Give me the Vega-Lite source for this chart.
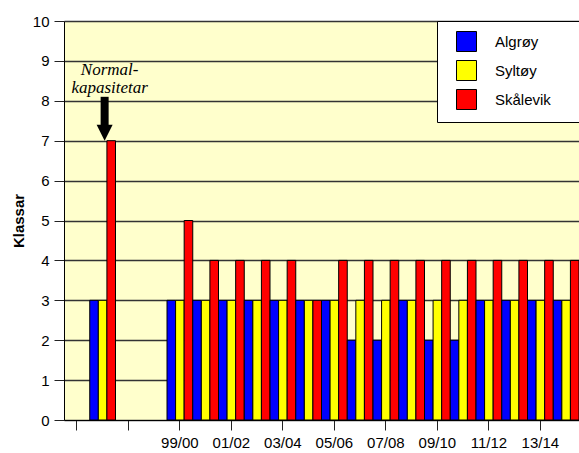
{
  "$schema": "https://vega.github.io/schema/vega-lite/v6.json",
  "width": 515,
  "height": 399,
  "autosize": {"type": "none"},
  "padding": {"left": 64, "top": 21, "right": 0, "bottom": 33},
  "background": "white",
  "config": {
    "view": {"fill": "#FFFFCC", "stroke": null},
    "font": "Liberation Sans",
    "axis": {"labelColor": "#000", "titleColor": "#000", "domainColor": "#000", "tickColor": "#222", "labelFont": "Liberation Sans", "titleFont": "Liberation Sans"},
    "axisY": {
      "tickCount": 10, "labelOverlap": false, "labelFlush": false,
      "grid": true, "gridColor": "#333", "gridOpacity": 1, "gridWidth": 1.5,
      "tickSize": 10, "labelFontSize": 15, "labelPadding": 5,
      "titleFontSize": 15, "titleFontWeight": "bold", "titlePadding": 6
    }
  },
  "layer": [
    {
      "data": {"values": [
        {"period": "Normal", "site": "Algrøy", "value": 3}, {"period": "Normal", "site": "Syltøy", "value": 3}, {"period": "Normal", "site": "Skålevik", "value": 7},
        {"period": "99/00", "site": "Algrøy", "value": 3}, {"period": "99/00", "site": "Syltøy", "value": 3}, {"period": "99/00", "site": "Skålevik", "value": 5},
        {"period": "00/01", "site": "Algrøy", "value": 3}, {"period": "00/01", "site": "Syltøy", "value": 3}, {"period": "00/01", "site": "Skålevik", "value": 4},
        {"period": "01/02", "site": "Algrøy", "value": 3}, {"period": "01/02", "site": "Syltøy", "value": 3}, {"period": "01/02", "site": "Skålevik", "value": 4},
        {"period": "02/03", "site": "Algrøy", "value": 3}, {"period": "02/03", "site": "Syltøy", "value": 3}, {"period": "02/03", "site": "Skålevik", "value": 4},
        {"period": "03/04", "site": "Algrøy", "value": 3}, {"period": "03/04", "site": "Syltøy", "value": 3}, {"period": "03/04", "site": "Skålevik", "value": 4},
        {"period": "04/05", "site": "Algrøy", "value": 3}, {"period": "04/05", "site": "Syltøy", "value": 3}, {"period": "04/05", "site": "Skålevik", "value": 3},
        {"period": "05/06", "site": "Algrøy", "value": 3}, {"period": "05/06", "site": "Syltøy", "value": 3}, {"period": "05/06", "site": "Skålevik", "value": 4},
        {"period": "06/07", "site": "Algrøy", "value": 2}, {"period": "06/07", "site": "Syltøy", "value": 3}, {"period": "06/07", "site": "Skålevik", "value": 4},
        {"period": "07/08", "site": "Algrøy", "value": 2}, {"period": "07/08", "site": "Syltøy", "value": 3}, {"period": "07/08", "site": "Skålevik", "value": 4},
        {"period": "08/09", "site": "Algrøy", "value": 3}, {"period": "08/09", "site": "Syltøy", "value": 3}, {"period": "08/09", "site": "Skålevik", "value": 4},
        {"period": "09/10", "site": "Algrøy", "value": 2}, {"period": "09/10", "site": "Syltøy", "value": 3}, {"period": "09/10", "site": "Skålevik", "value": 4},
        {"period": "10/11", "site": "Algrøy", "value": 2}, {"period": "10/11", "site": "Syltøy", "value": 3}, {"period": "10/11", "site": "Skålevik", "value": 4},
        {"period": "11/12", "site": "Algrøy", "value": 3}, {"period": "11/12", "site": "Syltøy", "value": 3}, {"period": "11/12", "site": "Skålevik", "value": 4},
        {"period": "12/13", "site": "Algrøy", "value": 3}, {"period": "12/13", "site": "Syltøy", "value": 3}, {"period": "12/13", "site": "Skålevik", "value": 4},
        {"period": "13/14", "site": "Algrøy", "value": 3}, {"period": "13/14", "site": "Syltøy", "value": 3}, {"period": "13/14", "site": "Skålevik", "value": 4},
        {"period": "14/15", "site": "Algrøy", "value": 3}, {"period": "14/15", "site": "Syltøy", "value": 3}, {"period": "14/15", "site": "Skålevik", "value": 4}
      ]},
      "mark": {"type": "bar", "stroke": "#000", "strokeWidth": 1},
      "encoding": {
        "x": {
          "field": "period", "type": "nominal",
          "scale": {"domain": ["g0", "Normal", "g2", "98/99", "99/00", "00/01", "01/02", "02/03", "03/04", "04/05", "05/06", "06/07", "07/08", "08/09", "09/10", "10/11", "11/12", "12/13", "13/14", "14/15"], "paddingInner": 0, "paddingOuter": 0},
          "axis": {
            "title": null,
            "values": ["g0", "g2", "99/00", "01/02", "03/04", "05/06", "07/08", "09/10", "11/12", "13/14"],
            "labelExpr": "slice(datum.value, 0, 1) == 'g' ? '' : datum.value",
            "labelAngle": 0, "labelFontSize": 15, "labelPadding": 5, "tickSize": 10, "grid": false
          }
        },
        "xOffset": {"field": "site", "type": "nominal", "scale": {"domain": ["Algrøy", "Syltøy", "Skålevik"], "paddingInner": 0, "paddingOuter": 0}},
        "y": {
          "field": "value", "type": "quantitative",
          "scale": {"domain": [0, 10]},
          "axis": {"title": "Klassar"}
        },
        "color": {
          "field": "site", "type": "nominal",
          "scale": {"domain": ["Algrøy", "Syltøy", "Skålevik"], "range": ["#0000FF", "#FFFF00", "#FF0000"]},
          "legend": {
            "title": null, "orient": "none", "legendX": 373, "legendY": 0,
            "fillColor": "white", "strokeColor": "#000", "padding": 10,
            "symbolType": "square", "symbolSize": 400, "symbolStrokeColor": "#000", "symbolStrokeWidth": 1, "symbolOpacity": 1,
            "symbolOffset": 9,
            "labelExpr": "datum.label + '\u00a0\u00a0\u00a0\u00a0\u00a0\u00a0\u00a0\u200b'",
            "labelFontSize": 15, "labelColor": "#000", "labelOffset": 18, "rowPadding": 4
          }
        }
      }
    },
    {
      "data": {"values": [{"period": "Normal", "value": 8.1, "value2": 7.35}]},
      "mark": {"type": "rule", "strokeWidth": 8, "color": "#000", "strokeCap": "butt", "xOffset": 2},
      "encoding": {
        "x": {"field": "period", "type": "nominal"},
        "y": {"field": "value", "type": "quantitative"},
        "y2": {"field": "value2"}
      }
    },
    {
      "data": {"values": [{"period": "Normal", "value": 7.2}]},
      "mark": {"type": "point", "shape": "M-1,-1L1,-1L0,1Z", "size": 256, "filled": true, "color": "#000", "opacity": 1, "xOffset": 2},
      "encoding": {
        "x": {"field": "period", "type": "nominal"},
        "y": {"field": "value", "type": "quantitative"}
      }
    },
    {
      "data": {"values": [{"period": "Normal", "value": 8.65, "note": "Normal-\nkapasitetar"}]},
      "mark": {"type": "text", "font": "Liberation Serif", "fontStyle": "italic", "fontSize": 17, "lineBreak": "\n", "lineHeight": 18, "baseline": "alphabetic", "align": "center", "dx": 7, "color": "#000"},
      "encoding": {
        "x": {"field": "period", "type": "nominal"},
        "y": {"field": "value", "type": "quantitative"},
        "text": {"field": "note"}
      }
    }
  ]
}
